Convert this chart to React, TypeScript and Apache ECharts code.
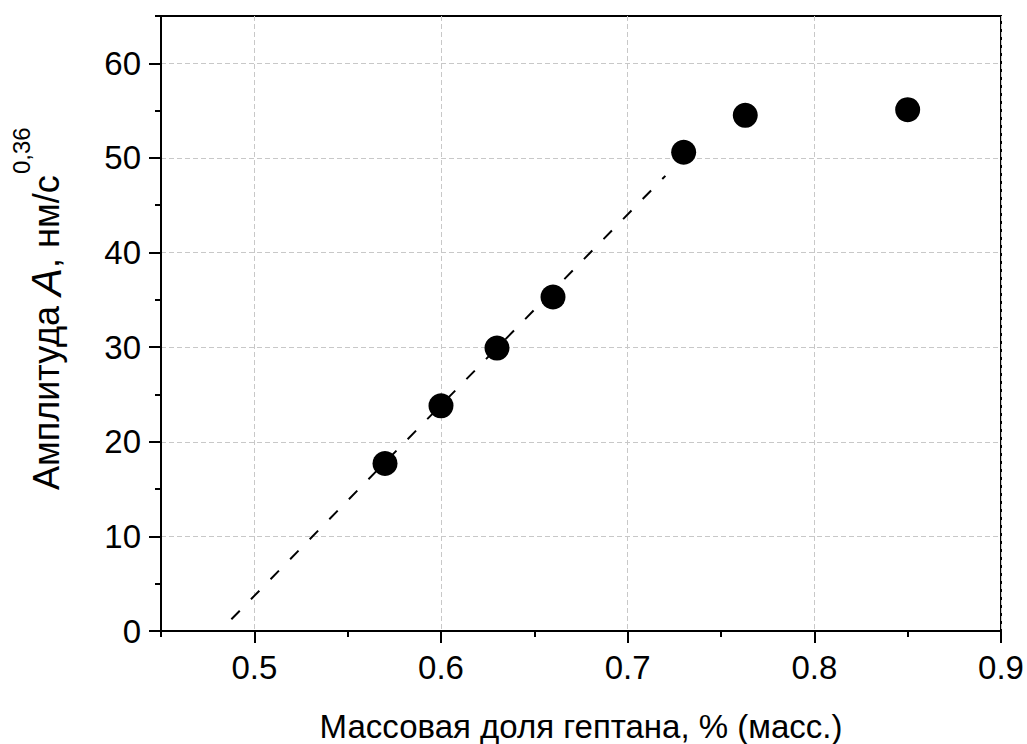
import React, { useEffect, useRef } from "react";
import * as echarts from "echarts";

const massFraction = [0.57, 0.6, 0.63, 0.66, 0.73, 0.763, 0.85];
const amplitude = [17.7, 23.8, 29.9, 35.3, 50.6, 54.5, 55.1];
const fitLineX = [0.4877, 0.7202];
const fitLineY = [1.24, 48.1];
const xMajorTicks = [0.5, 0.6, 0.7, 0.8, 0.9];
const xMinorTicks = [0.45, 0.55, 0.65, 0.75, 0.85];
const yMajorTicks = [0, 10, 20, 30, 40, 50, 60];
const yMinorTicks = [5, 15, 25, 35, 45, 55, 65];

const FONT = "Arial, 'Liberation Sans', sans-serif";

export default function App() {
  const ref = useRef<HTMLDivElement>(null);
  useEffect(() => {
    if (!ref.current) return;
    const chart = echarts.init(ref.current, undefined, { renderer: "svg" });
    const axisLine = { show: true, lineStyle: { color: "#000", width: 2 } };
    chart.setOption({
      animation: false,
      backgroundColor: "#fff",
      grid: {
        left: 161,
        right: 26,
        top: 16,
        bottom: 113,
        show: true,
        borderColor: "#000",
        borderWidth: 2,
        backgroundColor: "transparent",
        containLabel: false,
        outerBoundsMode: "none",
      },
      xAxis: [
        {
          type: "value",
          min: 0.45,
          max: 0.9,
          splitNumber: 5,
          axisLine,
          axisTick: { show: true, customValues: xMajorTicks, length: 12, lineStyle: { color: "#000", width: 2 } },
          axisLabel: {
            customValues: xMajorTicks,
            formatter: (v: number) => v.toFixed(1),
            fontSize: 33,
            color: "#000",
            fontFamily: FONT,
            margin: 20,
          },
          splitLine: { show: true, lineStyle: { color: "#c8c8c8", width: 1, type: [5, 3] } },
          name: "Массовая доля гептана, % (масс.)",
          nameLocation: "middle",
          nameGap: 78,
          nameTextStyle: { fontSize: 33, lineHeight: 34, color: "#000", fontFamily: FONT },
        },
        {
          type: "value",
          min: 0.45,
          max: 0.9,
          position: "bottom",
          axisLine: { show: false },
          axisTick: { show: true, customValues: xMinorTicks, length: 6, lineStyle: { color: "#000", width: 2 } },
          axisLabel: { show: false },
          splitLine: { show: false },
        },
      ],
      yAxis: [
        {
          type: "value",
          min: 0,
          max: 65,
          interval: 10,
          axisLine,
          axisTick: { show: true, customValues: yMajorTicks, length: 12, lineStyle: { color: "#000", width: 2 } },
          axisLabel: {
            customValues: yMajorTicks,
            fontSize: 33,
            color: "#000",
            fontFamily: FONT,
            margin: 20,
          },
          splitLine: { show: true, lineStyle: { color: "#c8c8c8", width: 1, type: [5, 3] } },
        },
        {
          type: "value",
          min: 0,
          max: 65,
          position: "left",
          axisLine: { show: false },
          axisTick: { show: true, customValues: yMinorTicks, length: 6, lineStyle: { color: "#000", width: 2 } },
          axisLabel: { show: false },
          splitLine: { show: false },
        },
      ],
      graphic: [
        {
          type: "text",
          x: 67,
          y: 490,
          rotation: Math.PI / 2,
          style: {
            text: "{a|Амплитуда }{i|A}{a|, нм/с}",
            rich: {
              a: { fontSize: 36, fontFamily: FONT, fill: "#000" },
              i: { fontSize: 42, fontFamily: FONT, fontStyle: "italic", fill: "#000" },
            },
            align: "left",
            verticalAlign: "bottom",
            fill: "#000",
          },
        },
        {
          type: "text",
          x: 33,
          y: 174,
          rotation: Math.PI / 2,
          style: {
            text: "0,36",
            fontSize: 24,
            fontFamily: FONT,
            align: "left",
            verticalAlign: "bottom",
            fill: "#000",
          },
        },
      ],
      series: [
        {
          type: "line",
          xAxisIndex: 0,
          yAxisIndex: 0,
          data: fitLineX.map((x, i) => [x, fitLineY[i]]),
          showSymbol: false,
          symbol: "none",
          lineStyle: { color: "#000", width: 2, type: [12, 16] },
          silent: true,
        },
        {
          type: "scatter",
          xAxisIndex: 0,
          yAxisIndex: 0,
          data: massFraction.map((x, i) => [x, amplitude[i]]),
          symbol: "circle",
          symbolSize: 25,
          itemStyle: { color: "#000", opacity: 1 },
        },
      ],
    });
    return () => chart.dispose();
  }, []);
  return (
    <div
      ref={ref}
      style={{ position: "fixed", left: 0, top: 0, width: 1027, height: 744, background: "#fff" }}
    />
  );
}
